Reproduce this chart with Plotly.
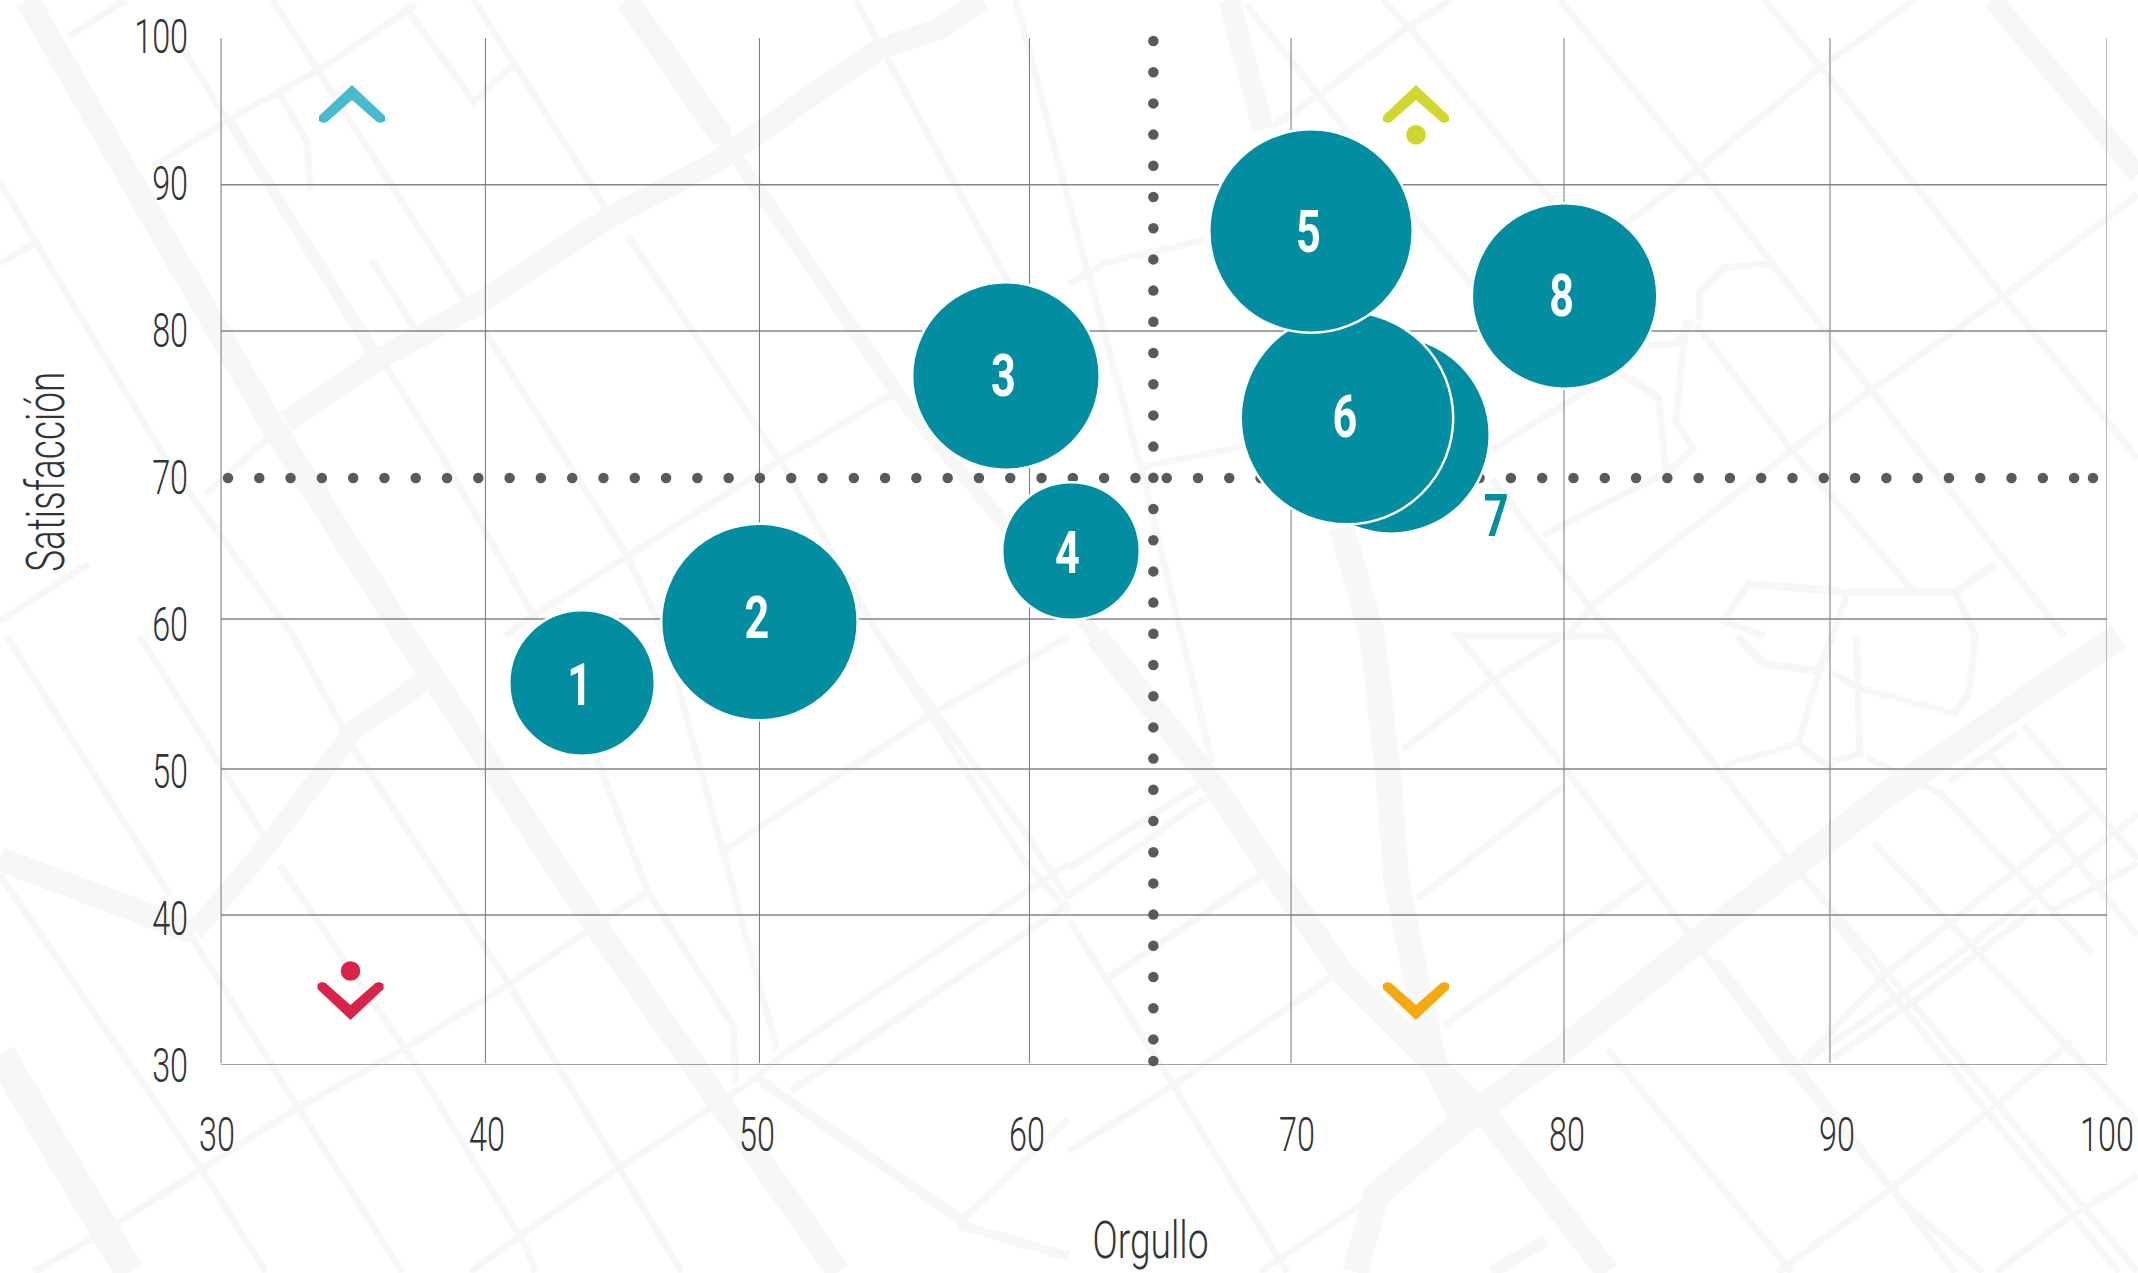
import numpy as np
import plotly.graph_objects as go

W, H = 2138, 1273
L, R, T, B = 217, 2107, 36, 1065

# ---- chart data
ids = ["1", "2", "3", "4", "7", "6", "5", "8"]
orgullo = [43.52, 50.09, 59.22, 61.63, 73.48, 71.85, 70.52, 79.91]
satisfaccion = [55.99, 60.14, 76.87, 64.97, 72.86, 74.01, 86.73, 82.31]
bubble_size = [145.5, 196.5, 187.5, 137.5, 197.5, 212.5, 203.5, 185.5]

label_text = ["1", "2", "3", "4", "5", "6", "7", "8"]
label_x = [43.43, 50.0, 59.13, 61.5, 70.42, 71.77, 77.38, 79.8]
label_y = [55.5, 60.07, 76.5, 64.5, 86.3, 73.74, 67.0, 81.94]
label_col = ["white"] * 6 + ["#028EA0", "white"]

tick_vals = [30, 40, 50, 60, 70, 80, 90, 100]
grid_x = [30.15, 39.94, 50.09, 60.09, 69.78, 79.89, 89.74, 100.0]
grid_y = [89.88, 79.93, 60.34, 50.14, 40.2, 30.0]
ref_x = 64.68
ref_y = 69.93

TEAL = "#028EA0"
MAP = "#F7F7F7"
FONT = "Roboto"
INK = "#333333"

def fx(px):
    return (px - L) / (R - L)
def fy(py):
    return (B - py) / (B - T)

# ---- street map backdrop: (zoomed pixels per quadrant) -> page pixels
def q(n, pts):
    x0 = 0 if n in (1, 3) else 1069
    y0 = 0 if n in (1, 2) else 636
    return [(x0 + a / 1.4668, y0 + b / 2.465) for a, b in pts]

streets = [
    # thick
    (24, q(1, [(40, 0), (400, 1050), (595, 1568)]) + q(3, [(860, 680), (1230, 1568)])),
    (22, q(1, [(1440, 0), (1380, 70), (1290, 120), (1050, 400), (900, 530), (690, 760), (550, 890), (420, 1040)])),
    (24, [(627, 0), (723, 138)]),
    (14, [(723, 138), (900, 397), (1096, 636)]),
    (24, [(1096, 636)] + q(4, [(200, 340), (400, 830), (620, 1200), (790, 1568)])),
    (26, q(4, [(1540, 0), (1200, 390), (930, 740), (730, 1010), (590, 1180), (450, 1380), (420, 1568)])),
    (20, q(2, [(1355, 0), (1568, 430)])),
    (22, q(2, [(235, 0), (285, 320)])),
    (26, q(2, [(400, 1300), (445, 1568)]) + q(4, [(470, 370), (480, 600), (510, 850), (535, 1050), (580, 1200)])),
    (24, q(3, [(0, 550), (285, 730)])),
    (20, q(3, [(285, 730), (400, 500), (520, 230), (640, 90)])),
    (30, q(3, [(0, 1030), (190, 1568)])),
    # north-west to south-east
    (7, q(1, [(400, 0), (690, 760)])),
    (7, q(1, [(712, 820), (920, 1370), (975, 1568)]) + q(3, [(1060, 530), (1140, 1020)])),
    (7, q(3, [(875, 300), (950, 630), (1075, 960), (1080, 1100)])),
    (7, q(1, [(695, 0), (895, 530)])),
    (7, q(1, [(920, 580), (1150, 1150), (1290, 1568)]) + q(3, [(1510, 500), (1568, 650)])),
    (7, q(1, [(265, 110), (550, 890)])),
    (7, q(1, [(340, 300), (640, 1100), (800, 1568)])),
    (7, q(1, [(600, 30), (695, 250), (750, 165)])),
    (7, q(1, [(410, 230), (450, 350), (455, 470)])),
    (7, q(1, [(545, 640), (610, 815)])),
    (7, q(1, [(1255, 0), (1480, 700)])),
    (7, q(1, [(1490, 0), (1568, 500)]) + q(2, [(110, 1180)]) + q(4, [(165, 0), (210, 310)])),
    (7, q(1, [(0, 450), (250, 1150), (430, 1568)]) + q(3, [(520, 280), (740, 840), (1000, 1568)])),
    (7, q(3, [(205, 0), (390, 500)])),
    (7, q(3, [(10, 0), (250, 640)])),
    (7, q(3, [(0, 590), (290, 1300), (390, 1568)])),
    (7, q(3, [(280, 740), (440, 1170), (590, 1568)])),
    (7, q(3, [(410, 565), (595, 1020), (770, 1500), (785, 1568)])),
    (7, q(3, [(1290, 0), (1500, 550), (1568, 680)])),
    (7, q(2, [(260, 10), (500, 520), (620, 760)])),
    (7, q(2, [(460, 0), (500, 70), (720, 520)])),
    (7, q(2, [(720, 0), (925, 420), (1180, 970), (1400, 1440), (1460, 1568)])),
    (7, q(2, [(1020, 0), (1110, 180), (1370, 730), (1568, 1130)])),
    (7, q(2, [(920, 800), (1060, 1110), (1240, 1460)])),
    (7, q(2, [(620, 1180), (770, 1510), (800, 1568)]) + q(4, [(570, 0), (725, 320), (1050, 1050), (1220, 1390), (1340, 1568)])),
    (7, q(4, [(800, 0), (1060, 560), (1220, 870), (1568, 1568)])),
    (7, q(4, [(790, 1020), (1060, 1568)])),
    (7, q(4, [(1170, 300), (1280, 390), (1500, 780)])),
    (7, q(4, [(1400, 220), (1568, 550)])),
    (7, q(4, [(1350, 290), (1568, 740)])),
    (7, q(4, [(950, 800), (1210, 1370), (1300, 1568)])),
    (7, q(4, [(1120, 700), (1350, 1180), (1540, 1568)])),
    (7, q(4, [(1180, 510), (1480, 1040), (1568, 1200)])),
    (7, q(4, [(0, 700), (150, 1100), (320, 1568)])),
    # north-east to south-west
    (7, q(1, [(610, 10), (470, 170), (340, 290), (225, 410)])),
    (7, q(1, [(185, 0), (100, 90)])),
    (7, q(1, [(1310, 970), (1100, 1180), (780, 1520), (740, 1568)])),
    (7, q(1, [(50, 600), (0, 650)])),
    (7, q(1, [(400, 1070), (300, 1220)])),
    (7, q(1, [(130, 1390), (0, 1530)])),
    (7, q(3, [(1568, 0), (1370, 190), (1060, 530)])),
    (7, q(3, [(950, 630), (860, 730), (745, 860), (590, 1020), (430, 1170), (290, 1320), (170, 1450), (50, 1568)])),
    (7, q(3, [(1568, 560), (1150, 1030), (1100, 1100), (900, 1320), (770, 1470), (690, 1568)])),
    (7, q(3, [(1568, 660), (1160, 1120)])),
    (10, q(3, [(1110, 1090), (1410, 1440)])),
    (10, q(3, [(1405, 1450), (1568, 1530)])),
    (7, q(3, [(1568, 1190), (1410, 1440)])),
    (7, q(2, [(560, 0), (495, 70), (370, 230), (300, 310)])),
    (7, q(2, [(1240, 0), (1100, 170), (920, 420), (810, 560)])),
    (7, q(2, [(1568, 480), (1370, 730), (1170, 970), (1060, 1110), (930, 1280), (770, 1490), (730, 1568)])),
    (7, q(2, [(620, 1110), (770, 950)])),
    (7, q(2, [(695, 1320), (870, 1170)])),
    (7, q(2, [(925, 790), (925, 720), (960, 660), (1030, 650)])),
    (7, q(2, [(810, 920), (865, 980), (875, 1160)])),
    (7, q(2, [(850, 850), (890, 850), (915, 790)])),
    (7, q(2, [(905, 790), (890, 1040), (915, 1105), (875, 1170)])),
    (7, q(2, [(0, 700), (50, 650), (200, 590)])),
    (7, q(2, [(110, 1150), (260, 1100)])),
    (8, q(2, [(1000, 1440), (1150, 1460), (1300, 1460), (1360, 1390)])),
    (7, q(2, [(1300, 1460), (1330, 1568)])),
    (7, q(2, [(1140, 1470), (1120, 1568)])),
    (7, q(2, [(1000, 1430), (960, 1530), (1020, 1568)])),
    (8, q(4, [(980, 0), (1020, 70), (1100, 85), (1120, 0)])),
    (7, q(4, [(1100, 85), (1070, 265), (960, 320)])),
    (7, q(4, [(1070, 265), (1120, 330)])),
    (7, q(4, [(1155, 0), (1160, 290), (1120, 310)])),
    (7, q(4, [(1120, 90), (1160, 130), (1300, 190), (1320, 140), (1330, 0)])),
    (7, q(4, [(725, 0), (620, 110), (490, 280)])),
    (7, q(4, [(725, 370), (510, 650)])),
    (7, q(4, [(850, 600), (550, 960)])),
    (7, q(4, [(290, 580), (60, 840)])),
    (7, q(4, [(200, 400), (0, 640)])),
    (7, q(4, [(190, 370), (0, 570)])),
    (7, q(4, [(395, 830), (160, 1100), (0, 1270)])),
    (7, q(4, [(1500, 430), (1200, 830), (1075, 1050)])),
    (7, q(4, [(1390, 240), (1290, 360)])),
    (7, q(4, [(1568, 440), (1300, 790), (1080, 1050)])),
    (7, q(4, [(1420, 670), (1240, 900), (1120, 1040)])),
    (7, q(4, [(1568, 560), (1440, 680)])),
    (7, q(4, [(1470, 1000), (1350, 1170), (1200, 1370), (1040, 1568)])),
    (7, q(4, [(1568, 1330), (1470, 1430), (1360, 1568)])),
    (12, q(4, [(700, 1490), (620, 1568)])),
    (7, q(4, [(430, 1400), (280, 1568)])),
]

shapes = []
for width, pts in streets:
    path = "M " + " L ".join(f"{fx(a):.5f} {fy(b):.5f}" for a, b in pts)
    shapes.append(dict(type="path", xref="paper", yref="paper", layer="below", path=path,
                       line=dict(color=MAP, width=width), fillcolor="rgba(0,0,0,0)"))

# ---- grid (hand placed in the original, so not on the tick positions)
for gx in grid_x:
    shapes.append(dict(type="line", xref="x", yref="paper", layer="below", x0=gx, x1=gx,
                       y0=fy(1063), y1=fy(38), line=dict(color="#757575", width=1)))
for gy in grid_y:
    shapes.append(dict(type="line", xref="paper", yref="y", layer="below", x0=fx(221), x1=1,
                       y0=gy, y1=gy, line=dict(color="#858585", width=1.5)))

# ---- quadrant icons
def chevron(cx, apex, sign, color, dot=None):
    """sign=+1 points up (apex on top), -1 points down; page pixels."""
    p = [(0, 0), (33, 31), (33, 36), (29, 38), (25, 37), (0, 15),
         (-25, 37), (-29, 38), (-33, 36), (-33, 31)]
    d = "M " + " L ".join(f"{fx(cx + a):.5f} {fy(apex + sign * b):.5f}" for a, b in p) + " Z"
    shapes.append(dict(type="path", xref="paper", yref="paper", layer="above", path=d,
                       fillcolor=color, line=dict(width=0)))
    if dot is not None:
        r = 9.8
        shapes.append(dict(type="circle", xref="paper", yref="paper", layer="above",
                           x0=fx(cx - r), x1=fx(cx + r), y0=fy(dot + r), y1=fy(dot - r),
                           fillcolor=color, line=dict(width=0)))

chevron(352, 85, 1, "#47BBCB")
chevron(1416, 85, 1, "#D0D72C", dot=134.7)
chevron(350.5, 1020, -1, "#D9234A", dot=971)
chevron(1416, 1020, -1, "#F5A90D")

# ---- dotted reference lines
dot_x = [30 + (228 + 31.29 * k - L) / 27 for k in range(60)] + [30 + (2093 - L) / 27]
dot_y = [100 - (41 + 31.2 * k - T) / 14.7 for k in range(33)] + [100 - (1061 - T) / 14.7]

fig = go.Figure()
fig.add_trace(go.Scatter(x=dot_x, y=[ref_y] * len(dot_x), mode="markers", cliponaxis=False,
                         marker=dict(size=10.5, color="#5A5A5A"), hoverinfo="skip", showlegend=False))
fig.add_trace(go.Scatter(x=[ref_x] * len(dot_y), y=dot_y, mode="markers", cliponaxis=False,
                         marker=dict(size=10.5, color="#5A5A5A"), hoverinfo="skip", showlegend=False))
fig.add_trace(go.Scatter(x=orgullo, y=satisfaccion, mode="markers", cliponaxis=False, text=ids,
                         marker=dict(size=bubble_size, sizemode="diameter", color=TEAL, opacity=1,
                                     line=dict(color="white", width=2.5)),
                         showlegend=False))
fig.add_trace(go.Scatter(x=label_x, y=label_y, mode="text", text=label_text, cliponaxis=False,
                         textposition="middle center", hoverinfo="skip", showlegend=False,
                         textfont=dict(family=FONT, size=60, color=label_col, weight=700)))

tick_font = dict(family=FONT, size=49, color=INK, weight=300)
fig.update_layout(
    width=W, height=H, margin=dict(l=L, r=W - R, t=T, b=H - B, autoexpand=False),
    paper_bgcolor="white", plot_bgcolor="rgba(0,0,0,0)", showlegend=False, shapes=shapes,
    xaxis=dict(range=[30, 100], tickvals=tick_vals, showgrid=False, zeroline=False, showline=False,
               ticks="", ticklabeloverflow="allow", ticklabelstandoff=36, tickfont=tick_font),
    yaxis=dict(range=[30, 100], tickvals=tick_vals, showgrid=False, zeroline=False, showline=False,
               ticks="", ticklabelstandoff=28, tickfont=tick_font),
    annotations=[
        dict(text="Orgullo", xref="paper", yref="paper", x=fx(1150), y=fy(1240), xanchor="center", yanchor="middle",
             showarrow=False, font=dict(family=FONT, size=51, color=INK, weight=300)),
        dict(text="Satisfacción", xref="paper", yref="paper", x=fx(45), y=fy(472), xanchor="center", yanchor="middle",
             textangle=-90, showarrow=False, font=dict(family=FONT, size=54, color=INK, weight=300)),
    ],
)

# The reference face is a condensed DIN: squeeze the real text horizontally.
squeeze = """
function nar(sel, sx, lens) {
  document.querySelectorAll(sel).forEach(function (t) {
    if (t.dataset.n) return;
    t.dataset.n = 1;
    var x = parseFloat(t.getAttribute('x')) || 0;
    var s = sx;
    if (lens && lens[t.textContent]) s = lens[t.textContent] / t.getComputedTextLength();
    var old = t.getAttribute('transform') || '';
    t.setAttribute('transform', old + ' translate(' + x + ',0) scale(' + s + ',1) translate(' + (-x) + ',0)');
  });
}
function run() {
  nar('.xtick text, .ytick text', 0.66);
  nar('.textpoint text', 0.72);
  nar('.annotation-text', 1, {'Orgullo': 116, 'Satisfacción': 200});
}
document.body.style.margin = '0';
document.documentElement.style.overflow = 'hidden';
run();
setTimeout(run, 100);
"""
fig.write_html("out.html", config=dict(displayModeBar=False), post_script=squeeze)
